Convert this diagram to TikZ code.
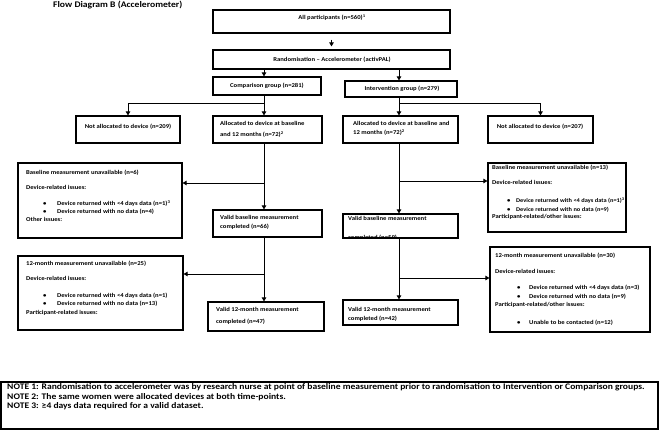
\documentclass[tikz,border=0pt]{standalone}
\usepackage{fontspec}
\setmainfont{Carlito}[FakeStretch=1.12]
\usetikzlibrary{arrows.meta,calc}
\newcommand\bxfont{\fontsize{5.95}{7}\selectfont\bfseries}
\newcommand\notefont{\fontsize{8.55}{9.5}\selectfont\bfseries}
\newcommand\mybox[5]{\node[box,minimum width={(#4)-(#2)},minimum height={(#5)-(#3)}] (#1) at ({((#2)+(#4))/2},{((#3)+(#5))/2}) {};}
\newcommand\sps[1]{\textsuperscript{#1}}
\begin{document}
\begin{tikzpicture}[x=1pt,y=-1pt,
  box/.style={draw=black,line width=1.2pt,inner sep=0pt,fill=none},
  txt/.style={inner sep=0pt,anchor=west,font=\bxfont,text height=4.4pt,text depth=1.3pt},
  ctxt/.style={inner sep=0pt,anchor=center,font=\bxfont,text height=4.4pt,text depth=1.3pt},
  ntxt/.style={inner sep=0pt,anchor=west,font=\notefont,text height=6pt,text depth=1.8pt},
  arr/.style={draw=black,line width=0.9pt,-{Triangle[length=4pt,width=4.5pt]}},
  ln/.style={draw=black,line width=0.9pt}]
\useasboundingbox (0,0) rectangle (660,431);
\fill[white] (0,0) rectangle (660,431);

% title
\node[inner sep=0pt,anchor=west,font=\fontsize{8.6}{10}\selectfont\bfseries] (title) at (53,5) {Flow Diagram B (Accelerometer)};

% boxes
\mybox{all}{213}{10}{450}{33}
\mybox{rand}{213}{50}{450}{69}
\mybox{comp}{213}{77}{321}{95}
\mybox{intv}{345}{81}{457}{97}
\mybox{na209}{76}{116}{180}{143}
\mybox{allocC}{213}{116}{322}{143}
\mybox{allocI}{343}{116}{458}{143}
\mybox{na207}{488}{116}{593}{143}
\mybox{bu6}{18}{163}{182}{238}
\mybox{bu13}{488}{163}{626}{232}
\mybox{vbC}{213}{210}{322}{237}
\mybox{vbI}{343}{214}{458}{238}
\mybox{mu25}{18}{256}{183}{330}
\mybox{mu30}{490}{247}{650}{332}
\mybox{vtC}{208}{302}{324}{331}
\mybox{vtI}{343}{300}{458}{325}
\mybox{notes}{1}{382}{658}{429}

% box texts
\node[ctxt] (tall) at (332,18) {All participants (n=560)\sps{1}};
\node[ctxt] (trand) at (332,60) {Randomisation -- Accelerometer (activPAL)};
\node[ctxt] (tcomp) at (267,86) {Comparison group (n=281)};
\node[ctxt] (tintv) at (402,89) {Intervention group (n=279)};
\node[ctxt] (tna209) at (128,127) {Not allocated to device (n=209)};
\node[ctxt] (tna207) at (540,127) {Not allocated to device (n=207)};

\node[txt] (tac1) at (220,124) {Allocated to device at baseline};
\node[txt] (tac2) at (220,135) {and 12 months (n=72)\sps{2}};
\node[txt] (tai1) at (353,124) {Allocated to device at baseline and};
\node[txt] (tai2) at (353,133) {12 months (n=72)\sps{2}};

\node[txt] (tvc1) at (220,218) {Valid baseline measurement};
\node[txt] (tvc2) at (220,227) {completed (n=66)};
\node[txt] (tvi1) at (348,219) {Valid baseline measurement};
\begin{scope}
\clip (vbI.south west) rectangle (vbI.north east);
\node[txt] (tvi2) at (348,238) {completed (n=59)};
\end{scope}

\node[txt] (ttc1) at (216,310) {Valid 12-month measurement};
\node[txt] (ttc2) at (216,322) {completed (n=47)};
\node[txt] (tti1) at (348,310) {Valid 12-month measurement};
\node[txt] (tti2) at (348,319) {completed (n=42)};

% baseline unavailable n=6
\node[txt] (b6a) at (26,173) {Baseline measurement unavailable (n=6)};
\node[txt] (b6b) at (26,188) {Device-related issues:};
\node[txt] (b6c) at (43,204) {•};
\node[txt] (b6d) at (57,204) {Device returned with <4 days data (n=1)\sps{3}};
\node[txt] (b6e) at (43,212) {•};
\node[txt] (b6f) at (57,212) {Device returned with no data (n=4)};
\node[txt] (b6g) at (26,220) {Other issues:};

% 12-month unavailable n=25
\node[txt] (m25a) at (26,264) {12-month measurement unavailable (n=25)};
\node[txt] (m25b) at (26,279) {Device-related issues:};
\node[txt] (m25c) at (43,296) {•};
\node[txt] (m25d) at (57,296) {Device returned with <4 days data (n=1)};
\node[txt] (m25e) at (43,304) {•};
\node[txt] (m25f) at (57,304) {Device returned with no data (n=13)};
\node[txt] (m25g) at (26,313) {Participant-related issues:};

% baseline unavailable n=13
\node[txt] (b13a) at (492,168) {Baseline measurement unavailable (n=13)};
\node[txt] (b13b) at (492,183) {Device-related issues:};
\node[txt] (b13c) at (507,201) {•};
\node[txt,font=\fontsize{5.7}{7}\selectfont\bfseries] (b13d) at (516,201) {Device returned with <4 days data (n=1)\sps{3}};
\node[txt] (b13e) at (507,210) {•};
\node[txt,font=\fontsize{5.7}{7}\selectfont\bfseries] (b13f) at (516,210) {Device returned with no data (n=9)};
\node[txt] (b13g) at (492,217) {Participant-related/other issues:};

% 12-month unavailable n=30
\node[txt] (m30a) at (495,256) {12-month measurement unavailable (n=30)};
\node[txt] (m30b) at (495,272) {Device-related issues:};
\node[txt] (m30c) at (517,288) {•};
\node[txt] (m30d) at (529,288) {Device returned with <4 days data (n=3)};
\node[txt] (m30e) at (517,297) {•};
\node[txt] (m30f) at (529,297) {Device returned with no data (n=9)};
\node[txt] (m30g) at (495,305) {Participant-related/other issues:};
\node[txt] (m30h) at (517,323) {•};
\node[txt] (m30i) at (529,323) {Unable to be contacted (n=12)};

% notes
\node[ntxt] (n1) at (7,387) {NOTE 1: Randomisation to accelerometer was by research nurse at point of baseline measurement prior to randomisation to Intervention or Comparison groups.};
\node[ntxt] (n2) at (7,397) {NOTE 2: The same women were allocated devices at both time-points.};
\node[ntxt] (n3) at (7,406) {NOTE 3: ≥4 days data required for a valid dataset.};

% connectors
\draw[arr,shorten <=6pt,shorten >=3pt] (all.south) -- (all.south |- rand.north);
\draw[arr] ([xshift=-3pt]comp.north |- rand.south) -- ([xshift=-3pt]comp.north);
\draw[arr] ([xshift=-2pt]intv.north |- rand.south) -- ([xshift=-2pt]intv.north);

\draw[arr] ([xshift=-3pt]comp.south) -- ([xshift=-3pt]comp.south |- allocC.north);
\coordinate (jc) at ([xshift=-3pt]comp.south |- 0,103);
\draw[arr] (jc) -| (na209.north);
\draw[arr] ([xshift=-2pt]intv.south) -- ([xshift=-2pt]intv.south |- allocI.north);
\coordinate (ji) at ([xshift=-2pt]intv.south |- 0,103);
\draw[arr] (ji) -| (na207.north);

\draw[arr] ([xshift=-3.5pt]allocC.south) -- ([xshift=-3.5pt]allocC.south |- vbC.north);
\coordinate (j1) at ([xshift=-3.5pt]allocC.south |- 0,183);
\draw[arr] (j1) -- (j1 -| bu6.east);
\draw[arr] ([xshift=-1.5pt]allocI.south) -- ([xshift=-1.5pt]allocI.south |- vbI.north);
\coordinate (j2) at ([xshift=-1.5pt]allocI.south |- 0,181);
\draw[arr] (j2) -- (j2 -| bu13.west);

\draw[arr] ([xshift=-3.5pt]vbC.south) -- ([xshift=-3.5pt]vbC.south |- vtC.north);
\coordinate (j3) at ([xshift=-3.5pt]vbC.south |- 0,274);
\draw[arr] (j3) -- (j3 -| mu25.east);
\draw[arr] ([xshift=-1.5pt]vbI.south) -- ([xshift=-1.5pt]vbI.south |- vtI.north);
\coordinate (j4) at ([xshift=-1.5pt]vbI.south |- 0,278);
\draw[arr] (j4) -- (j4 -| mu30.west);
\end{tikzpicture}
\end{document}
